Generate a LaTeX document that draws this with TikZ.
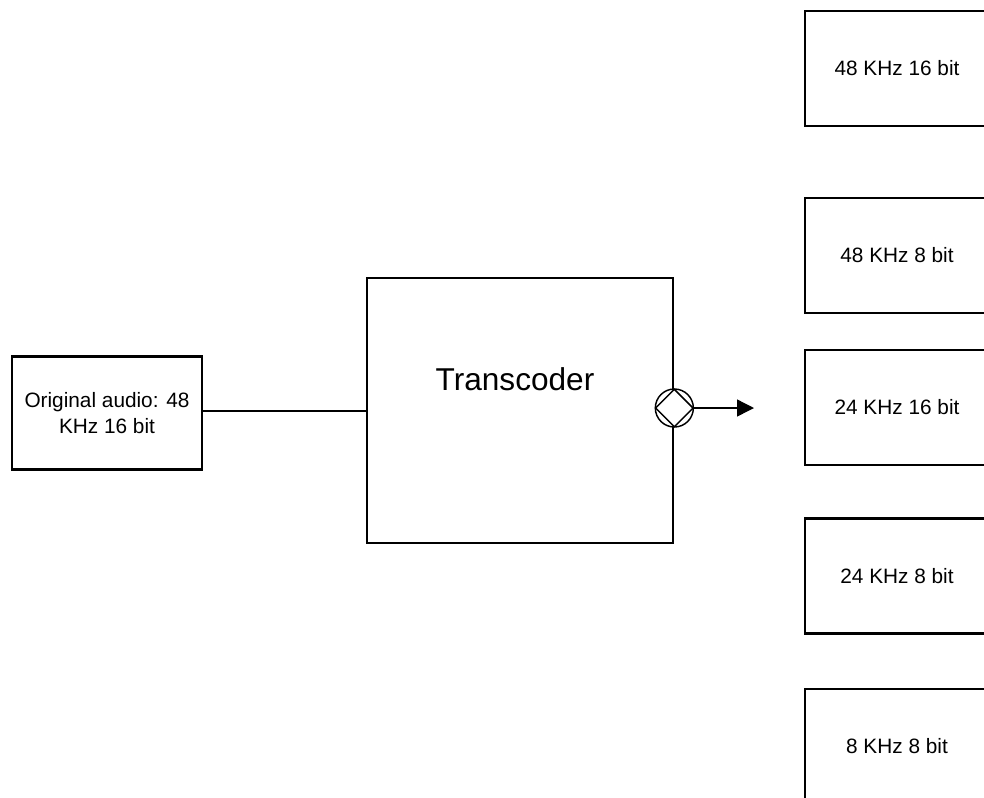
\documentclass[tikz,border=0pt]{standalone}
\usepackage{fontspec}
\setmainfont{Liberation Sans}
\usetikzlibrary{arrows.meta,shapes.geometric,positioning}

\begin{document}
\begin{tikzpicture}[x=0.75pt, y=-0.75pt, line width=2pt,
        every node/.style={font=\fontsize{15.6}{20}\selectfont},
        blk/.style={draw, rectangle, inner sep=0pt, align=center},
        outbox/.style={blk, minimum width=138pt, minimum height=86.25pt}]
        \useasboundingbox (0,0) rectangle (984,797);
        \clip (0,0) rectangle (984,797);
        % source and transcoder
        \node[blk, minimum width=142.5pt, minimum height=85pt] (src) at (107,413)
        {Original audio: 48\\KHz 16 bit};
        \node[blk, minimum width=229.5pt, minimum height=198.75pt] (tc) at (520,410.5) {};
        \node[font=\fontsize{23.7}{28}\selectfont] (tclbl) at (515,379) {Transcoder};
        \draw (src.east |- 0,411) -- (tc.west |- 0,411);
        % selector on the output side
        \node[circle, draw, fill=white, line width=1.1pt, minimum size=28.5pt,
        inner sep=0pt] (sel) at (tc.east |- 0,408) {};
        \node[diamond, draw, line width=1.1pt, minimum size=28.5pt,
        inner sep=0pt] (seld) at (sel) {};
        \coordinate (tip) at (754,408);
        \draw[line width=1pt, -{Triangle[length=12.75pt, width=12.75pt]}]
        (sel.east) -- (tip);
        % output formats
        \foreach \n/\yc/\txt in {a/68.5/48 KHz 16 bit, b/255.5/48 KHz 8 bit,
        c/407.5/24 KHz 16 bit, d/576/24 KHz 8 bit, e/746.5/8 KHz 8 bit}
        \node[outbox] (out\n) at (897,\yc) {\txt};
\end{tikzpicture}
\end{document}
